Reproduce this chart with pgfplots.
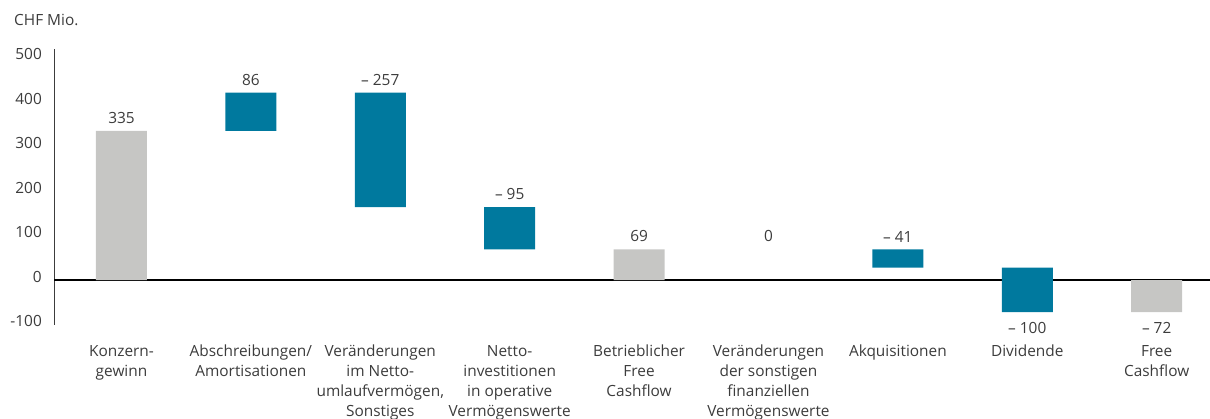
\documentclass[border=0pt]{standalone}
\usepackage{pgfplots}
\pgfplotsset{compat=1.18}
\usepackage{fontspec}
\setmainfont{Open Sans}
\definecolor{wfteal}{RGB}{0,121,158}
\definecolor{wfgray}{RGB}{198,198,196}
\definecolor{txt}{RGB}{60,60,60}
\newcommand{\chartfont}{\fontsize{15.4}{20}\selectfont}
\tikzset{vlab/.style={font=\chartfont, text=txt, inner sep=0pt}}
\begin{document}
\begin{tikzpicture}[x=1pt,y=1pt]
\path[use as bounding box] (0,0) rectangle (1210,418);
\node[anchor=base west, inner sep=0pt, font=\chartfont, text=txt] at (14,392) {CHF Mio.};
\begin{axis}[
  at={(54pt,93.5pt)}, anchor=south west,
  scale only axis, width=1156pt, height=275.9pt,
  xmin=-0.5216, xmax=8.412, ymin=-100, ymax=520,
  axis x line*=bottom, axis y line*=left,
  x axis line style={draw=none},
  y axis line style={draw=txt, line width=0.9pt},
  ybar stacked, stack negative=on previous, bar width=51pt,
  xtick={0,...,8},
  xticklabels={{\strut Konzern-\\gewinn},{\strut Abschreibungen/\\Amortisationen},{\strut Veränderungen\\im Netto-\\umlaufvermögen,\\Sonstiges},{\strut Netto-\\investitionen\\in operative\\Vermögenswerte},{\strut Betrieblicher\\Free\\Cashflow},{\strut Veränderungen\\der sonstigen\\finanziellen\\Vermögenswerte},{\strut Akquisitionen},{\strut Dividende},{\strut Free\\Cashflow}},
  ytick={-100,0,100,200,300,400,500},
  yticklabels={-100,0,100,200,300,400,500},
  extra y ticks={0}, extra y tick labels={},
  extra y tick style={grid=major, major grid style={black, line width=1.1pt}},
  major tick length=0pt,
  tick label style={font=\chartfont, text=txt},
  yticklabel style={anchor=east, inner sep=0pt, xshift=-12pt, yshift=3.5pt},
  xticklabel style={anchor=north, align=center, inner sep=0pt, yshift=-17.5pt},
  clip=false,
]
\addplot[draw=none, fill=none] coordinates {(0,0) (1,335) (2,164) (3,69) (4,0) (5,0) (6,28) (7,-72) (8,0)};
\addplot[draw=none, fill=wfgray] coordinates {(0,335) (1,0) (2,0) (3,0) (4,69) (5,0) (6,0) (7,0) (8,-72)};
\addplot[draw=none, fill=wfteal] coordinates {(0,0) (1,86) (2,257) (3,95) (4,0) (5,0) (6,41) (7,100) (8,0)};
\node[vlab, anchor=south, yshift=7pt] at (axis cs:0,335) {335};
\node[vlab, anchor=south, yshift=7pt] at (axis cs:1,421) {86};
\node[vlab, anchor=south, yshift=7pt] at (axis cs:2,421) {– 257};
\node[vlab, anchor=south, yshift=7pt] at (axis cs:3,164) {– 95};
\node[vlab, anchor=south, yshift=7pt] at (axis cs:4,69) {69};
\node[vlab, anchor=south, yshift=7pt] at (axis cs:5,69) {0};
\node[vlab, anchor=south, yshift=7pt] at (axis cs:6,69) {– 41};
\node[vlab, anchor=north, yshift=-10pt] at (axis cs:7,-72) {– 100};
\node[vlab, anchor=north, yshift=-10pt] at (axis cs:8,-72) {– 72};
\end{axis}
\end{tikzpicture}
\end{document}
